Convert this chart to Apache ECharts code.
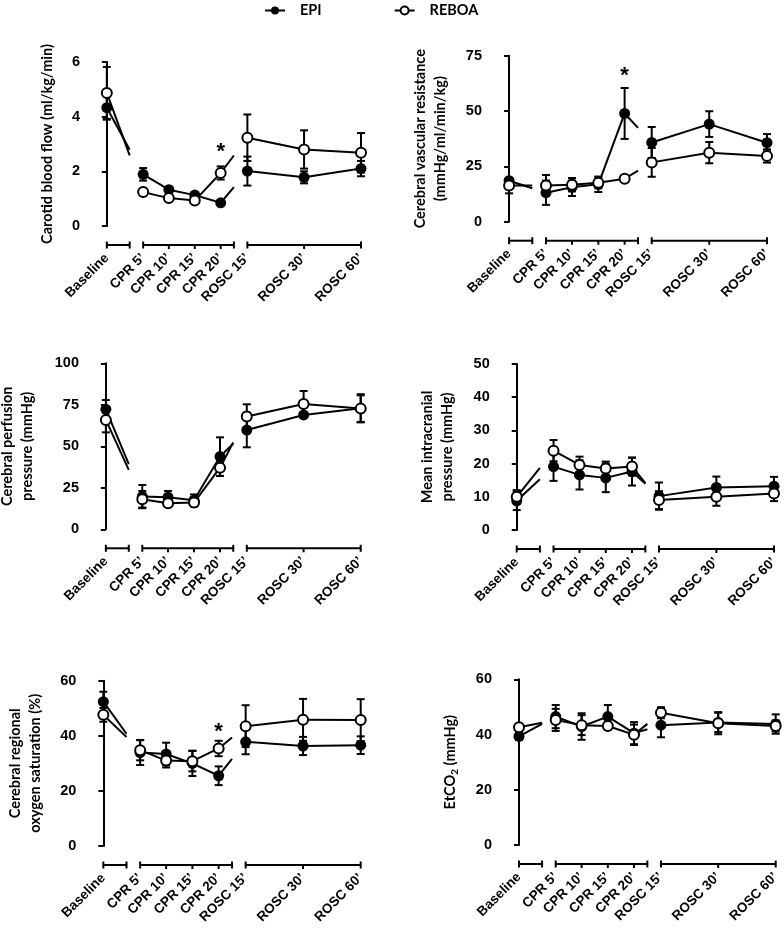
<!DOCTYPE html>
<html>
<head>
<meta charset="utf-8">
<script src="https://cdn.jsdelivr.net/npm/echarts@6/dist/echarts.min.js"></script>
<style>
html,body{margin:0;padding:0;background:#fff;}
#chart{width:784px;height:931px;}
</style>
</head>
<body>
<div id="chart"></div>
<script>
// ---------- DATA ----------
const categories = ['Baseline', 'CPR 5’', 'CPR 10’', 'CPR 15’', 'CPR 20’', 'ROSC 15’', 'ROSC 30’', 'ROSC 60’'];
const seriesNames = ['EPI', 'REBOA'];

// Carotid blood flow (ml/kg/min)
const cbfEpi = [4.33, 1.89, 1.33, 1.13, 0.85, 2.01, 1.78, 2.10];
const cbfEpiSem = [0.44, 0.23, 0.10, 0.10, 0.08, 0.53, 0.22, 0.28];
const cbfReboa = [4.87, 1.24, 1.02, 0.93, 1.94, 3.23, 2.80, 2.68];
const cbfReboaSem = [0.95, 0.12, 0.06, 0.06, 0.24, 0.85, 0.70, 0.72];
const cbfSig = [['CPR 20’', 2.85]];

// Cerebral vascular resistance (mmHg/ml/min/kg)
const cvrEpi = [18.5, 13.1, 15.6, 16.9, 48.9, 35.8, 44.1, 35.7];
const cvrEpiSem = [1.0, 5.5, 4.0, 3.5, 11.5, 7.0, 5.8, 3.9];
const cvrReboa = [16.3, 16.4, 16.7, 17.6, 19.4, 26.8, 31.2, 29.7];
const cvrReboaSem = [3.5, 4.7, 3.0, 2.5, 1.0, 6.5, 4.8, 3.0];
const cvrSig = [['CPR 20’', 67.8]];

// Cerebral perfusion pressure (mmHg)
const cppEpi = [72.3, 19.7, 19.3, 17.5, 43.8, 59.8, 68.9, 72.9];
const cppEpiSem = [5.6, 7.0, 3.8, 3.5, 11.6, 10.4, 1.5, 8.5];
const cppReboa = [65.9, 18.1, 15.7, 16.1, 37.1, 67.9, 75.5, 72.7];
const cppReboaSem = [7.5, 5.0, 2.0, 2.4, 5.0, 7.4, 7.8, 8.0];
const cppSig = [];

// Mean intracranial pressure (mmHg)
const icpEpi = [8.8, 19.1, 16.6, 15.7, 17.6, 10.2, 12.8, 13.2];
const icpEpiSem = [2.8, 4.3, 4.4, 4.3, 4.2, 4.1, 3.3, 2.8];
const icpReboa = [10.0, 23.9, 19.6, 18.5, 19.1, 9.0, 10.0, 11.0];
const icpReboaSem = [2.0, 3.2, 2.5, 2.1, 2.7, 2.7, 2.7, 2.3];
const icpSig = [];

// Cerebral regional oxygen saturation (%)
const rso2Epi = [52.4, 33.9, 33.4, 30.0, 25.5, 37.8, 36.3, 36.6];
const rso2EpiSem = [3.6, 4.5, 4.1, 4.6, 3.4, 4.5, 3.3, 3.2];
const rso2Reboa = [47.6, 34.8, 31.0, 30.8, 35.4, 43.5, 45.8, 45.7];
const rso2ReboaSem = [2.5, 3.7, 2.5, 3.7, 2.8, 7.6, 7.6, 7.6];
const rso2Sig = [['CPR 20’', 42.7]];

// EtCO2 (mmHg)
const etEpi = [39.3, 46.5, 42.9, 46.5, 40.5, 43.4, 44.4, 43.8];
const etEpiSem = [1.3, 4.2, 4.8, 4.2, 4.0, 4.4, 3.5, 3.5];
const etReboa = [42.6, 45.3, 43.4, 43.1, 39.9, 47.9, 44.1, 43.1];
const etReboaSem = [0.6, 4.0, 3.6, 1.2, 3.7, 2.0, 4.0, 2.0];
const etSig = [];

// y-axis ticks
const cbfTicks = [0, 2, 4, 6];
const cvrTicks = [0, 25, 50, 75];
const cppTicks = [0, 25, 50, 75, 100];
const icpTicks = [0, 10, 20, 30, 40, 50];
const rso2Ticks = [0, 20, 40, 60];
const etTicks = [0, 20, 40, 60];

// ---------- LAYOUT (positions on the broken time axis) ----------
const xPos = [0, 14.3, 24.4, 34.6, 44.8, 55.3, 77.6, 100];
const segments = [[0, 9], [14.3, 50], [55.3, 100]];
const X_MIN = -7.4, X_MAX = 100;

const panels = [
  {left: 88, top: 62, width: 273, height: 164, name: 'Carotid blood flow (ml/kg/min)', gap: 31,
   epi: cbfEpi, epiSem: cbfEpiSem, reb: cbfReboa, rebSem: cbfReboaSem, sig: cbfSig, ticks: cbfTicks},
  {left: 490, top: 55.7, width: 277, height: 166, name: 'Cerebral vascular resistance\n(mmHg/ml/min/kg)', gap: 40,
   epi: cvrEpi, epiSem: cvrEpiSem, reb: cvrReboa, rebSem: cvrReboaSem, sig: cvrSig, ticks: cvrTicks},
  {left: 87, top: 363.3, width: 273.7, height: 166, name: 'Cerebral perfusion\npressure (mmHg)', gap: 50,
   epi: cppEpi, epiSem: cppEpiSem, reb: cppReboa, rebSem: cppReboaSem, sig: cppSig, ticks: cppTicks},
  {left: 497.7, top: 364, width: 276.3, height: 166, name: 'Mean intracranial\npressure (mmHg)', gap: 40,
   epi: icpEpi, epiSem: icpEpiSem, reb: icpReboa, rebSem: icpReboaSem, sig: icpSig, ticks: icpTicks},
  {left: 84.3, top: 680.7, width: 276.4, height: 165.3, name: 'Cerebral regional\noxygen saturation (%)', gap: 39,
   epi: rso2Epi, epiSem: rso2EpiSem, reb: rso2Reboa, rebSem: rso2ReboaSem, sig: rso2Sig, ticks: rso2Ticks},
  {left: 500, top: 679.3, width: 275.7, height: 165.7, name: 'EtCO{sub|2} (mmHg)', gap: 40,
   epi: etEpi, epiSem: etEpiSem, reb: etReboa, rebSem: etReboaSem, sig: etSig, ticks: etTicks}
];

const BLACK = '#000';
const TICK_FONT = 'Liberation Sans';
const NAME_FONT = 'Lato';

// ---------- RENDERERS ----------
function lineRenderer(vals) {
  return function (params, api) {
    const i = params.dataIndex;
    const a = api.coord([xPos[i], vals[i]]);
    const b = api.coord([xPos[i + 1], vals[i + 1]]);
    const dx = b[0] - a[0], dy = b[1] - a[1];
    const children = [];
    segments.forEach(function (seg) {
      const s0 = api.coord([seg[0], 0])[0];
      const s1 = api.coord([seg[1], 0])[0];
      const t0 = Math.max(0, (s0 - a[0]) / dx);
      const t1 = Math.min(1, (s1 - a[0]) / dx);
      if (t1 > t0 + 1e-6) {
        children.push({
          type: 'line',
          shape: {x1: a[0] + dx * t0, y1: a[1] + dy * t0, x2: a[0] + dx * t1, y2: a[1] + dy * t1},
          style: {stroke: BLACK, lineWidth: 2}
        });
      }
    });
    return {type: 'group', children: children};
  };
}

function errRenderer(params, api) {
  const x = api.value(0);
  const lo = api.coord([x, api.value(1)]);
  const hi = api.coord([x, api.value(2)]);
  const hw = 4;
  const st = {stroke: BLACK, lineWidth: 2};
  return {type: 'group', children: [
    {type: 'line', shape: {x1: lo[0], y1: lo[1], x2: hi[0], y2: hi[1]}, style: st},
    {type: 'line', shape: {x1: lo[0] - hw, y1: lo[1], x2: lo[0] + hw, y2: lo[1]}, style: st},
    {type: 'line', shape: {x1: hi[0] - hw, y1: hi[1], x2: hi[0] + hw, y2: hi[1]}, style: st}
  ]};
}

function segAxisRenderer(params, api) {
  const s0 = api.value(0), s1 = api.value(1);
  const base = api.coord([s0, 0]);
  const y = base[1] + 19;
  const x0 = base[0];
  const x1 = api.coord([s1, 0])[0];
  const st = {stroke: BLACK, lineWidth: 2};
  const children = [
    {type: 'line', shape: {x1: x0, y1: y, x2: x1, y2: y}, style: st},
    {type: 'line', shape: {x1: x0, y1: y - 3.5, x2: x0, y2: y + 3.5}, style: st},
    {type: 'line', shape: {x1: x1, y1: y - 3.5, x2: x1, y2: y + 3.5}, style: st}
  ];
  xPos.forEach(function (p) {
    if (p > s0 + 1e-6 && p < s1 - 1e-6) {
      const px = api.coord([p, 0])[0];
      children.push({type: 'line', shape: {x1: px, y1: y, x2: px, y2: y + 4}, style: st});
    }
  });
  return {type: 'group', children: children};
}

function sigRenderer(params, api) {
  const p = api.coord([api.value(0), api.value(1)]);
  return {type: 'text', x: p[0], y: p[1] + 4,
    style: {text: '*', fill: BLACK, font: 'bold 22px "Liberation Sans"', textAlign: 'center', textVerticalAlign: 'middle'}};
}

// ---------- OPTION ----------
const grids = [], xAxes = [], yAxes = [], series = [];

// legend-only series
series.push({name: 'EPI', type: 'line', data: [], xAxisIndex: 0, yAxisIndex: 0, symbol: 'circle', symbolSize: 10,
  lineStyle: {color: BLACK, width: 2}, itemStyle: {color: BLACK}});
series.push({name: 'REBOA', type: 'line', data: [], xAxisIndex: 0, yAxisIndex: 0, symbol: 'circle', symbolSize: 10,
  lineStyle: {color: BLACK, width: 2}, itemStyle: {color: '#fff', borderColor: BLACK, borderWidth: 2}});

panels.forEach(function (p, k) {
  grids.push({left: p.left, top: p.top, width: p.width, height: p.height, containLabel: false, outerBoundsMode: 'none'});
  xAxes.push({
    type: 'value', gridIndex: k, min: X_MIN, max: X_MAX,
    axisLine: {show: false}, axisTick: {show: false}, splitLine: {show: false},
    axisLabel: {
      customValues: xPos, rotate: 45, margin: 30, interval: 0, hideOverlap: false,
      color: BLACK, fontFamily: TICK_FONT, fontWeight: 'bold', fontSize: 13.5,
      formatter: function (v) { const i = xPos.indexOf(v); return i >= 0 ? categories[i] : ''; }
    }
  });
  const yMax = p.ticks[p.ticks.length - 1];
  yAxes.push({
    type: 'value', gridIndex: k, min: p.ticks[0], max: yMax, interval: p.ticks[1] - p.ticks[0],
    axisLine: {show: true, lineStyle: {color: BLACK, width: 2}},
    axisTick: {show: true, length: 5, lineStyle: {color: BLACK, width: 2}},
    splitLine: {show: false},
    axisLabel: {color: BLACK, fontFamily: TICK_FONT, fontWeight: 'bold', fontSize: 14.5, margin: 8},
    name: p.name, nameLocation: 'middle', nameGap: p.gap, nameRotate: 90,
    nameTextStyle: {color: BLACK, fontFamily: NAME_FONT, fontWeight: 'bold', fontSize: 14.5, lineHeight: 20,
      rich: {sub: {fontFamily: NAME_FONT, fontWeight: 'bold', fontSize: 10, verticalAlign: 'bottom', padding: [8, 0, 0, 0]}}}
  });

  // segmented x axis
  series.push({type: 'custom', xAxisIndex: k, yAxisIndex: k, clip: false, silent: true,
    renderItem: segAxisRenderer, data: segments.map(function (s) { return [s[0], s[1]]; })});

  // connecting lines (clipped at axis breaks)
  [p.epi, p.reb].forEach(function (vals) {
    series.push({type: 'custom', xAxisIndex: k, yAxisIndex: k, clip: false, silent: true,
      renderItem: lineRenderer(vals),
      data: vals.slice(0, -1).map(function (v, i) { return [xPos[i], v]; })});
  });
  // error bars
  [[p.epi, p.epiSem], [p.reb, p.rebSem]].forEach(function (pair) {
    series.push({type: 'custom', xAxisIndex: k, yAxisIndex: k, clip: false, silent: true,
      renderItem: errRenderer,
      data: pair[0].map(function (v, i) { return [xPos[i], v - pair[1][i], v + pair[1][i]]; })});
  });
  // markers
  series.push({name: 'EPI', type: 'scatter', xAxisIndex: k, yAxisIndex: k, symbol: 'circle', symbolSize: 11,
    itemStyle: {color: BLACK, opacity: 1}, silent: true,
    data: p.epi.map(function (v, i) { return [xPos[i], v]; })});
  series.push({name: 'REBOA', type: 'scatter', xAxisIndex: k, yAxisIndex: k, symbol: 'circle', symbolSize: 10,
    itemStyle: {color: '#fff', borderColor: BLACK, borderWidth: 2, opacity: 1}, silent: true,
    data: p.reb.map(function (v, i) { return [xPos[i], v]; })});
  // significance asterisks
  if (p.sig.length) {
    series.push({type: 'custom', xAxisIndex: k, yAxisIndex: k, clip: false, silent: true,
      renderItem: sigRenderer,
      data: p.sig.map(function (s) { return [xPos[categories.indexOf(s[0])], s[1]]; })});
  }
});

const chart = echarts.init(document.getElementById('chart'), null, {renderer: 'canvas'});
chart.setOption({
  animation: false,
  backgroundColor: '#fff',
  legend: {
    data: seriesNames, top: 3, left: 264, padding: 0, itemGap: 72, itemWidth: 20, itemHeight: 10,
    textStyle: {color: BLACK, fontFamily: NAME_FONT, fontWeight: 'bold', fontSize: 14.5, padding: [0, 0, 0, 10]},
    selectedMode: false
  },
  grid: grids, xAxis: xAxes, yAxis: yAxes, series: series
});
</script>
</body>
</html>
